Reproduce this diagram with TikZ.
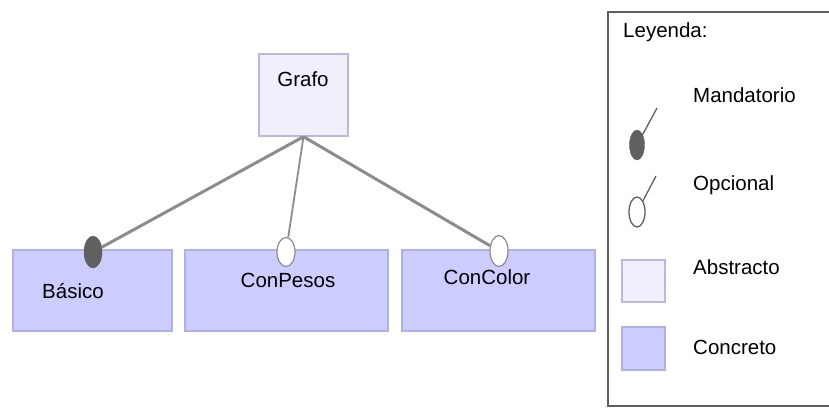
\documentclass[tikz,border=0pt]{standalone}
\usepackage{fontspec}
\setmainfont{Liberation Sans}
\usetikzlibrary{shapes.geometric,positioning}
\definecolor{concreto}{RGB}{204,204,255}
\definecolor{concretoborde}{RGB}{176,176,232}
\definecolor{abstracto}{RGB}{240,240,253}
\definecolor{abstractoborde}{RGB}{184,184,226}
\definecolor{arista}{RGB}{140,140,140}
\definecolor{marca}{RGB}{96,96,96}

\begin{document}
\begin{tikzpicture}[x=1pt,y=-1pt]
    \tikzstyle{abstract} = [draw=abstractoborde, fill=abstracto, line width=1.4pt, inner sep=0pt];
    \tikzstyle{concrete} = [draw=concretoborde, fill=concreto, line width=1.4pt, inner sep=0pt, minimum height=81pt];
    \tikzstyle{txt} = [inner sep=0pt, font=\fontsize{20.5}{24}\selectfont];
    \tikzstyle{mand} = [shape=ellipse, fill=marca, draw=marca, inner sep=0pt, minimum width=18pt];
    \tikzstyle{opt} = [shape=ellipse, fill=white, draw=arista, line width=1.2pt, inner sep=0pt, minimum width=18pt];
    \tikzstyle{rel} = [draw=arista, line width=3pt];

    \useasboundingbox (0,0) rectangle (829,408);

    % features
    \node[abstract, minimum width=89pt, minimum height=82pt](G) at (303.5,95) {};
    \node[txt](Gt) at (303,79) {Grafo};

    \node[concrete, minimum width=159pt](B) at (92.5,290.5) {};
    \node[txt](Bt) at (73,291) {Básico};
    \node[concrete, minimum width=203pt](P) at (286.5,290.5) {};
    \node[txt](Pt) at (288,280) {ConPesos};
    \node[concrete, minimum width=193pt](C) at (498.5,290.5) {};
    \node[txt](Ct) at (487,277) {ConColor};

    \node[mand, minimum height=32pt](MB) at (93,252) {};
    \node[opt, minimum height=29pt](OP) at (286,252) {};
    \node[opt, minimum height=31pt](OC) at (499,251) {};

    \draw[rel]
        (G.south) edge (MB)
        (G.south) edge[line width=1.8pt] (OP)
        (G.south) edge (OC)
    ;

    % legend
    \draw[draw={rgb,255:red,95;green,95;blue,95}, line width=2.4pt] (608,12) rectangle (845,406);
    \node[txt, anchor=west](L) at (623,32) {Leyenda:};

    \node[mand, minimum width=15pt, minimum height=30pt](ML) at (637,145) {};
    \coordinate (MLt) at (657,108);
    \draw[marca, line width=1.3pt] (MLt) -- (ML);
    \node[txt, anchor=west](Mt) at (693,95) {Mandatorio};

    \node[opt, draw=marca, line width=1.3pt, minimum width=16pt, minimum height=30pt](OL) at (637,212) {};
    \coordinate (OLt) at (656,176);
    \draw[marca, line width=1.3pt] (OLt) -- (OL);
    \node[txt, anchor=west](Ot) at (693,185) {Opcional};

    \node[abstract, minimum width=43pt, minimum height=42pt](AL) at (643.5,281) {};
    \node[txt, anchor=west](At) at (693,267) {Abstracto};

    \node[concrete, minimum width=43pt, minimum height=43pt](CL) at (643.5,348.5) {};
    \node[txt, anchor=west](Cct) at (693,347) {Concreto};
\end{tikzpicture}
\end{document}
